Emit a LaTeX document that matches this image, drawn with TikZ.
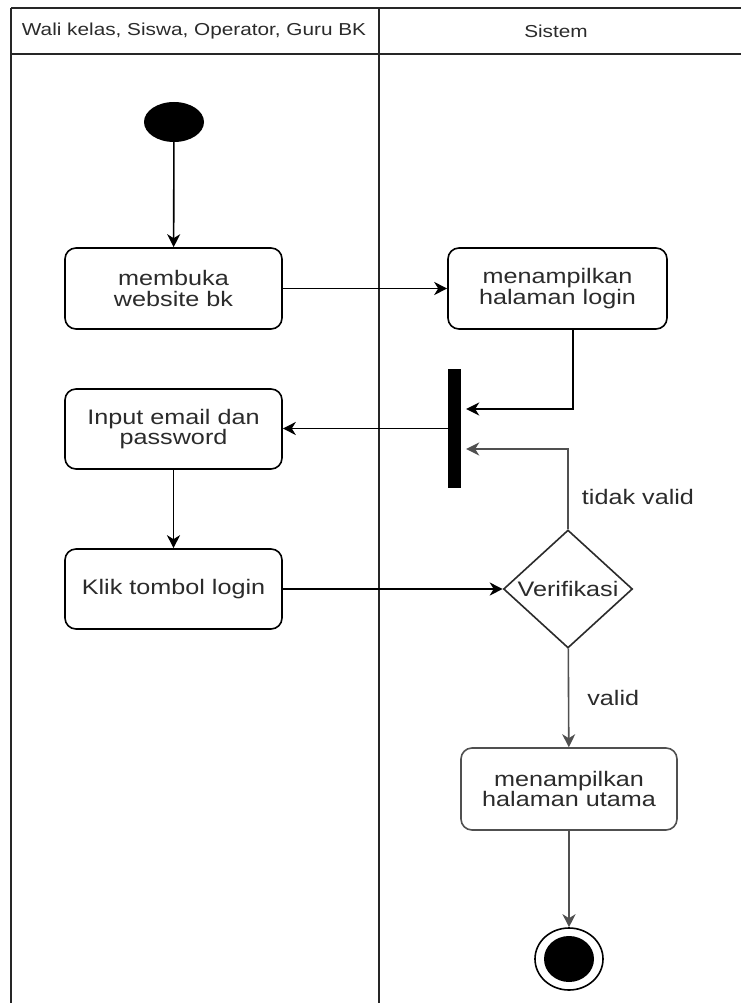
\documentclass[tikz,border=0pt]{standalone}
\usepackage{fontspec}
\setmainfont{Liberation Sans}[FakeStretch=1.2]
\usetikzlibrary{shapes.geometric,arrows.meta,calc}
\definecolor{txt}{HTML}{2B2B2B}
\definecolor{gln}{HTML}{505050}
\begin{document}
\begin{tikzpicture}[x=1pt,y=1pt,
  act/.style={draw=black, line width=1.6pt, rounded corners=11pt, minimum width=217pt, minimum height=81pt, inner sep=0pt, text=txt, align=center, font=\fontsize{21}{20.5}\selectfont},
  arr/.style={line width=1.6pt, -{Stealth[length=13pt,width=13pt,inset=4pt]}},
  lane/.style={line width=1.8pt, draw=black!85},
  lbl/.style={text=txt, inner sep=0pt, font=\fontsize{21}{20.5}\selectfont},
  hdr/.style={text=txt, inner sep=0pt, font=\fontsize{17.3}{19}\selectfont}]
\useasboundingbox (0,0) rectangle (741,-1003);
\fill[white] (0,0) rectangle (741,-1003);
% swimlanes
\draw[lane] (11,-8) -- (741,-8);
\draw[lane] (11,-54) -- (741,-54);
\draw[lane] (11,-8) -- (11,-1003);
\draw[lane] (379,-8) -- (379,-1003);
\node[hdr] (h1) at (194,-31) {Wali kelas, Siswa, Operator, Guru BK};
\node[hdr] (h2) at (556,-31) {Sistem};
% nodes
\node[ellipse, fill=black, minimum width=60pt, minimum height=40pt, inner sep=0pt] (start) at (174,-122) {};
\node[act] (open) at (173.5,-288.5) {membuka\\website bk};
\node[act, minimum width=219pt] (login) at (557.5,-288.5) {menampilkan\\halaman login};
\node[fill=black, minimum width=13pt, minimum height=119pt, inner sep=0pt] (bar) at (454.5,-428.5) {};
\node[act, minimum height=80pt] (input) at (173.5,-429) {Input email dan\\password};
\node[act, minimum height=80pt] (klik) at (173.5,-589) {Klik tombol login};
\node[diamond, draw=txt, line width=1.6pt, minimum width=129pt, minimum height=118pt, inner sep=0pt, text=txt, font=\fontsize{21}{20.5}\selectfont] (verif) at (568,-589) {\makebox[0pt]{Verifikasi}};
\node[act, minimum width=216pt, minimum height=82pt, draw=gln] (utama) at (569,-789) {menampilkan\\halaman utama};
\node[ellipse, draw=black, line width=1.6pt, minimum width=68pt, minimum height=62pt, inner sep=0pt] (end) at (569,-959) {};
\node[ellipse, fill=black, minimum width=50pt, minimum height=46pt, inner sep=0pt] (endin) at (end) {};
\node[lbl] (tv) at (638,-497) {tidak valid};
% connectors
\draw[arr] (start) -- (open);
\draw[arr] (open) -- (login);
\draw[arr] ([xshift=15.5pt]login.south) |- ([xshift=5pt,yshift=19.5pt]bar.east);
\draw[arr, draw=gln] (verif.north) |- ([xshift=5pt,yshift=-20.5pt]bar.east);
\draw[arr] (bar.west) -- (bar.west -| input.east);
\draw[arr] (input) -- (klik);
\draw[arr] (klik) -- (verif);
\draw[arr, draw=gln] (verif) -- node[lbl, anchor=west, xshift=18pt] (vl) {valid} (utama);
\draw[arr, draw=gln] (utama) -- (end);
\end{tikzpicture}
\end{document}
